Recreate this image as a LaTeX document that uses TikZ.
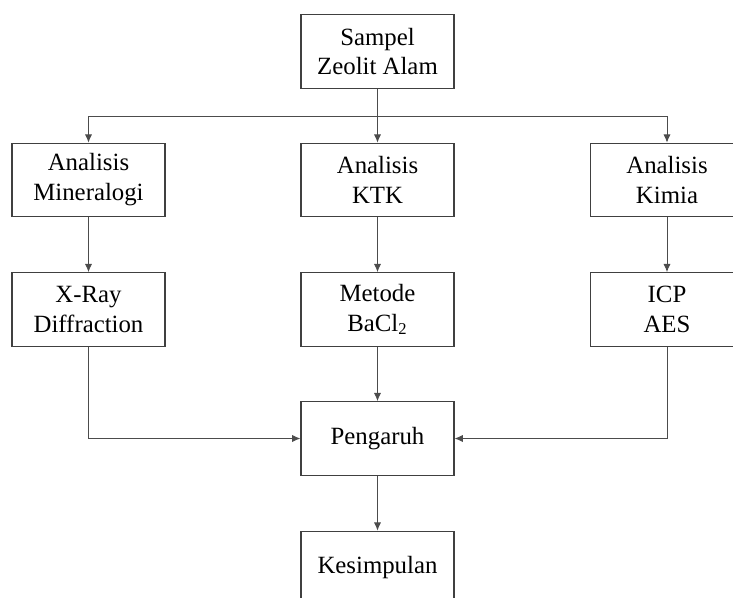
\documentclass[tikz,border=0pt]{standalone}
\usepackage{fontspec}
\setmainfont{Liberation Serif}
\usetikzlibrary{arrows.meta}

\begin{document}
\begin{tikzpicture}[x=0.017cm, y=-0.017cm,
    box/.style={draw=black!75, line width=0.6pt, minimum width=2.6cm,
        minimum height=1.25cm, align=center, inner sep=2pt,
        font=\fontsize{12}{14.5}\selectfont},
    arr/.style={draw=black!70, line width=0.45pt, -{Latex[length=4pt,width=3.5pt]}},
    ln/.style={draw=black!70, line width=0.45pt}]
    \useasboundingbox (0, 0) rectangle (733, 597);
    \clip (0, 0) rectangle (733, 597);

    % Define nodes
    \node[box] (sampel) at (377.5, 51.5) {Sampel\\Zeolit Alam};
    \node[box] (mineral) at (88.5, 180) {Analisis\\Mineralogi};
    \node[box] (ktk) at (377.5, 180) {Analisis\\KTK};
    \node[box] (kimia) at (667, 180) {Analisis\\Kimia};
    \node[box] (xrd) at (88.5, 309.5) {X-Ray\\Diffraction};
    \node[box] (bacl) at (377.5, 309.5) {Metode\\BaCl\textsubscript{2}};
    \node[box] (icp) at (667, 309.5) {ICP\\AES};
    \node[box] (pengaruh) at (377.5, 438.5) {Pengaruh};
    \node[box] (simpul) at (377.5, 568) {Kesimpulan};
    \coordinate (split) at (377.5, 116);

    % Top branch
    \draw[ln] (sampel) -- (split);
    \draw[arr] (split) -| (mineral);
    \draw[arr] (split) -- (ktk);
    \draw[arr] (split) -| (kimia);

    % Columns
    \draw[arr] (mineral) -- (xrd);
    \draw[arr] (ktk) -- (bacl);
    \draw[arr] (kimia) -- (icp);

    % Into Pengaruh
    \draw[arr] (xrd) |- (pengaruh);
    \draw[arr] (bacl) -- (pengaruh);
    \draw[arr] (icp) |- (pengaruh);
    \draw[arr] (pengaruh) -- (simpul);
\end{tikzpicture}
\end{document}
